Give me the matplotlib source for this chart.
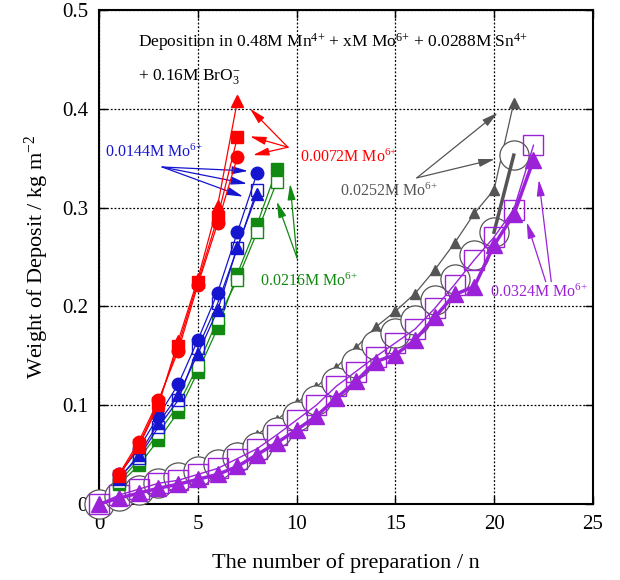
import matplotlib
matplotlib.use("Agg")
import matplotlib.pyplot as plt

# --- data ---
n_short = [1, 2, 3, 4, 5, 6, 7]
n_blue = [1, 2, 3, 4, 5, 6, 7, 8]
n_green = [1, 2, 3, 4, 5, 6, 7, 8, 9]
n_gray = list(range(0, 22))
n_purple = list(range(0, 23))

# 0.0072M Mo6+ (red)
red_circle = [0.030, 0.063, 0.105, 0.155, 0.222, 0.284, 0.351]
red_square = [0.028, 0.060, 0.102, 0.160, 0.225, 0.290, 0.371]
red_triangle = [0.030, 0.058, 0.100, 0.165, 0.228, 0.302, 0.408]

# 0.0144M Mo6+ (blue)
blue_circle = [0.030, 0.056, 0.089, 0.121, 0.166, 0.214, 0.275, 0.335]
blue_square = [0.027, 0.047, 0.078, 0.105, 0.158, 0.203, 0.259, 0.318]
blue_triangle = [0.025, 0.050, 0.082, 0.110, 0.152, 0.196, 0.260, 0.314]

# 0.0216M Mo6+ (green)
green_filled = [0.020, 0.039, 0.065, 0.093, 0.134, 0.178, 0.233, 0.283, 0.339]
green_open = [0.022, 0.045, 0.072, 0.100, 0.140, 0.187, 0.227, 0.275, 0.326]

# 0.0252M Mo6+ (gray)
gray_circle = [0.0, 0.008, 0.014, 0.021, 0.027, 0.033, 0.040, 0.048, 0.058, 0.073, 0.089,
               0.105, 0.123, 0.143, 0.161, 0.173, 0.186, 0.206, 0.228, 0.252, 0.275, 0.353]
gray_triangle = [0.0, 0.010, 0.017, 0.025, 0.032, 0.040, 0.048, 0.058, 0.070, 0.085, 0.102,
                 0.118, 0.138, 0.158, 0.179, 0.195, 0.213, 0.237, 0.264, 0.294, 0.318, 0.406]

# 0.0324M Mo6+ (purple)
purple_square = [0.0, 0.009, 0.015, 0.021, 0.024, 0.030, 0.036, 0.046, 0.056, 0.070, 0.085, 0.100,
                 0.119, 0.134, 0.149, 0.163, 0.177, 0.198, 0.222, 0.247, 0.270, 0.298, 0.363]
purple_triangle = [0.0, 0.006, 0.011, 0.016, 0.020, 0.025, 0.030, 0.038, 0.050, 0.062, 0.075, 0.089,
                   0.107, 0.124, 0.144, 0.151, 0.166, 0.189, 0.212, 0.220, 0.262, 0.293, 0.348]

RED = '#ff0000'
BLUE = '#1515d0'
GREEN = '#128a12'
GRAY = '#555555'
PURPLE = '#9b22d8'

plt.rcParams['font.family'] = ['Liberation Serif', 'DejaVu Serif']
plt.rcParams['mathtext.fontset'] = 'custom'
plt.rcParams['mathtext.rm'] = 'Liberation Serif'
plt.rcParams['mathtext.default'] = 'regular'


def arrow(ax, head, tail, color):
    ax.annotate('', xy=head, xytext=tail,
                arrowprops=dict(arrowstyle='-|>,head_length=0.6,head_width=0.15', color=color, lw=0.9,
                                mutation_scale=16, shrinkA=0, shrinkB=0))


fig = plt.figure(figsize=(6.2, 5.8), dpi=100)
ax = fig.add_axes([0.16, 0.131, 0.796, 0.852])

# --- long runs (gray / purple) ---
kw = dict(clip_on=False)
ax.plot(n_gray, gray_triangle, '-^', color=GRAY, ms=7, lw=0.9, zorder=2, **kw)
ax.plot(n_gray, gray_circle, '-o', color=GRAY, mfc='white', mec=GRAY, ms=21, mew=0.9, lw=1.0, zorder=3, **kw)
ax.plot(n_gray[-2:], gray_circle[-2:], '-', color=GRAY, lw=2.5, zorder=3)
ax.plot(n_purple, purple_square, '-s', color=PURPLE, mfc='none', mec=PURPLE, ms=14, mew=1.0, lw=1.0, zorder=4, **kw)
ax.plot(n_purple, purple_triangle, '-^', color=PURPLE, ms=11, lw=2.5, zorder=5, **kw)

# --- short runs (red / blue / green) ---
ax.plot(n_green, green_filled, '-s', color=GREEN, ms=9, lw=0.9, zorder=6)
ax.plot(n_green, green_open, '-s', color=GREEN, mfc='white', ms=9, lw=0.9, zorder=6)
ax.plot(n_blue, blue_triangle, '-^', color=BLUE, ms=9, lw=0.9, zorder=7)
ax.plot(n_blue, blue_square, '-s', color=BLUE, mfc='none', ms=9, lw=0.9, zorder=7)
ax.plot(n_blue, blue_circle, '-o', color=BLUE, ms=9, lw=0.9, zorder=7)
ax.plot(n_short, red_triangle, '-^', color=RED, ms=9, lw=0.9, zorder=8)
ax.plot(n_short, red_square, '-s', color=RED, ms=9, lw=0.9, zorder=8)
ax.plot(n_short, red_circle, '-o', color=RED, ms=9, lw=0.9, zorder=8)

# --- labels with arrows ---
ax.text(10.15, 0.351, '0.0072M Mo$^{6{+}}$', color=RED, fontsize=11.5, va='center')
for head in [(7.64, 0.400), (7.64, 0.372), (7.79, 0.353)]:
    arrow(ax, head, (9.56, 0.361), RED)

ax.text(0.3, 0.356, '0.0144M Mo$^{6{+}}$', color=BLUE, fontsize=11.5, va='center')
for head in [(7.54, 0.337), (7.49, 0.324), (7.29, 0.311)]:
    arrow(ax, head, (3.19, 0.341), BLUE)

ax.text(8.15, 0.225, '0.0216M Mo$^{6{+}}$', color=GREEN, fontsize=11.5, va='center')
for head in [(9.0, 0.306), (9.67, 0.324)]:
    arrow(ax, head, (10.02, 0.249), GREEN)

ax.text(12.2, 0.316, '0.0252M Mo$^{6{+}}$', color=GRAY, fontsize=11.5, va='center')
for head in [(20.19, 0.396), (20.04, 0.349)]:
    arrow(ax, head, (16.09, 0.330), GRAY)

ax.text(19.79, 0.214, '0.0324M Mo$^{6{+}}$', color=PURPLE, fontsize=11.5, va='center')
arrow(ax, (21.66, 0.285), (22.62, 0.225), PURPLE)
arrow(ax, (22.27, 0.328), (22.9, 0.225), PURPLE)

ax.text(1.97, 0.467, 'Deposition in 0.48M Mn$^{4{+}}$ + xM Mo$^{6{+}}$ + 0.0288M Sn$^{4{+}}$',
        fontsize=12.5, va='center')
ax.text(1.97, 0.433, '+ 0.16M BrO$_3^{-}$', fontsize=12.5, va='center')

# --- axes ---
ax.set_xlim(0, 25)
ax.set_ylim(0, 0.5)
ax.set_xticks([0, 5, 10, 15, 20, 25])
ax.set_yticks([0, 0.1, 0.2, 0.3, 0.4, 0.5])
ax.set_yticklabels(['0', '0.1', '0.2', '0.3', '0.4', '0.5'])
ax.tick_params(direction='in', top=True, right=True, length=6, width=1, labelsize=15, pad=8)
ax.grid(True, linestyle=(0, (1.5, 1.5)), color='black', lw=0.9)
for s in ax.spines.values():
    s.set_linewidth(1.5)
ax.set_xlabel('The number of preparation / n', fontsize=16, labelpad=14)
ax.set_ylabel('Weight of Deposit / kg m$^{-2}$', fontsize=16, labelpad=8)

fig.savefig('out.png', dpi=100)
